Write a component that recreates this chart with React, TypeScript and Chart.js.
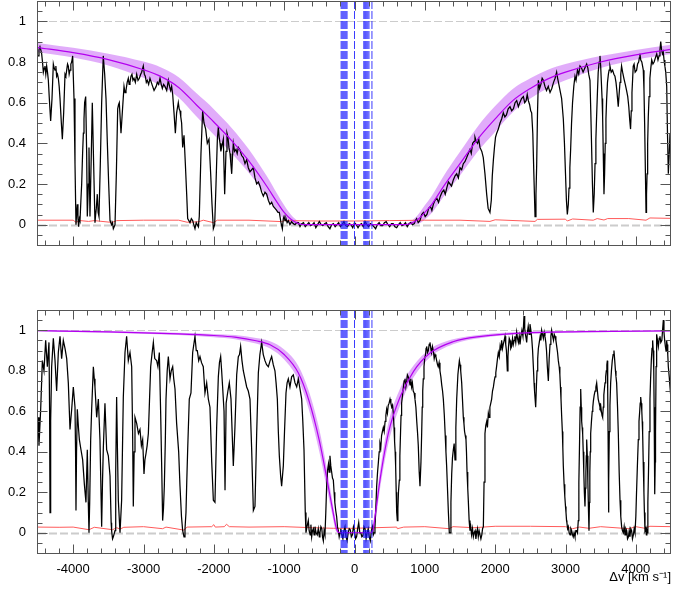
import React, { useEffect, useRef } from 'react';
import { Chart, registerables } from 'chart.js';

Chart.register(...registerables);

// ---------- axes ----------
const V_MIN = -4500;
const V_MAX = 4500;
const F_MIN = -0.1;
const F_MAX = 1.1;
const X_TICKS = [-4000, -3000, -2000, -1000, 0, 1000, 2000, 3000, 4000];
const Y_TICKS = [0, 0.2, 0.4, 0.6, 0.8, 1];
const X_MINOR_STEP = 200;
const Y_MINOR_STEP = 0.05;
const REFERENCE_LEVELS = [0, 1];
const X_TITLE = 'Δv [km s⁻¹]';

// velocity components (blue dashed lines), km/s
const COMPONENT_V = [-190, -176, -162, -148, -134, -120, -106, 0, 132, 146, 160, 175, 190, 206, 248];

// ---------- top panel: normalised flux (velocity, flux) ----------
const TOP_SPECTRUM: [number, number][] = [
  [-4500,0.83],[-4486,0.86],[-4472,0.875],[-4460,0.86],[-4448,0.84],[-4436,0.80],[-4424,0.75],[-4412,0.77],[-4401,0.78],[-4389,0.74],[-4377,0.78],[-4365,0.75],[-4353,0.71],[-4339,0.62],[-4320,0.51],[-4301,0.62],[-4282,0.79],[-4270,0.77],[-4258,0.76],[-4246,0.78],[-4235,0.73],[-4223,0.74],[-4211,0.72],[-4199,0.68],[-4187,0.62],[-4168,0.50],[-4154,0.42],[-4135,0.55],[-4116,0.74],[-4104,0.73],[-4092,0.76],[-4080,0.79],[-4069,0.78],[-4057,0.74],[-4045,0.76],[-4033,0.79],[-4021,0.80],[-4007,0.83],[-3988,0.62],[-3974,0.30],[-3960,0.0],[-3950,0.06],[-3941,0.10],[-3932,0.03],[-3922,-0.01],[-3912,0.03],[-3903,0.02],[-3890,0.12],[-3879,0.20],[-3866,0.35],[-3855,0.45],[-3846,0.52],[-3837,0.60],[-3822,0.63],[-3808,0.35],[-3799,0.04],[-3784,0.20],[-3775,0.38],[-3761,0.04],[-3742,0.35],[-3728,0.60],[-3709,0.30],[-3690,0.01],[-3680,0.05],[-3671,0.08],[-3657,0.15],[-3645,0.06],[-3633,0.04],[-3614,0.30],[-3595,0.60],[-3583,0.72],[-3572,0.83],[-3552,0.74],[-3533,0.62],[-3514,0.40],[-3495,0.20],[-3476,0.02],[-3465,0.01],[-3453,0.0],[-3441,0.01],[-3429,-0.02],[-3417,-0.01],[-3405,0.0],[-3386,0.25],[-3367,0.57],[-3355,0.59],[-3344,0.60],[-3320,0.45],[-3296,0.58],[-3277,0.68],[-3263,0.65],[-3249,0.66],[-3232,0.70],[-3216,0.72],[-3204,0.69],[-3192,0.70],[-3178,0.73],[-3164,0.74],[-3150,0.71],[-3135,0.72],[-3116,0.70],[-3097,0.74],[-3078,0.71],[-3059,0.72],[-3040,0.74],[-3026,0.75],[-3003,0.78],[-2988,0.74],[-2974,0.73],[-2960,0.70],[-2946,0.71],[-2927,0.69],[-2908,0.72],[-2889,0.70],[-2870,0.68],[-2850,0.66],[-2837,0.66],[-2820,0.68],[-2803,0.70],[-2785,0.69],[-2765,0.72],[-2748,0.69],[-2732,0.67],[-2714,0.69],[-2695,0.68],[-2670,0.66],[-2647,0.71],[-2630,0.68],[-2614,0.66],[-2600,0.68],[-2585,0.64],[-2566,0.55],[-2547,0.45],[-2529,0.55],[-2515,0.58],[-2505,0.60],[-2493,0.57],[-2481,0.56],[-2470,0.53],[-2458,0.50],[-2443,0.38],[-2424,0.44],[-2405,0.30],[-2386,0.15],[-2372,0.03],[-2355,0.02],[-2339,0.01],[-2320,0.03],[-2301,0.02],[-2285,0.0],[-2268,-0.02],[-2250,0.01],[-2235,0.0],[-2220,-0.01],[-2207,0.04],[-2183,0.35],[-2159,0.56],[-2140,0.50],[-2116,0.47],[-2093,0.40],[-2069,0.42],[-2045,0.25],[-2026,0.10],[-2007,-0.02],[-1988,0.0],[-1969,0.20],[-1950,0.42],[-1936,0.48],[-1924,0.43],[-1912,0.40],[-1900,0.36],[-1889,0.38],[-1877,0.40],[-1865,0.42],[-1846,0.15],[-1827,0.36],[-1813,0.45],[-1799,0.43],[-1785,0.38],[-1770,0.35],[-1758,0.30],[-1746,0.25],[-1735,0.33],[-1723,0.40],[-1705,0.36],[-1685,0.37],[-1668,0.35],[-1652,0.38],[-1628,0.367],[-1605,0.34],[-1581,0.33],[-1557,0.30],[-1533,0.32],[-1510,0.28],[-1486,0.26],[-1462,0.27],[-1438,0.28],[-1415,0.23],[-1391,0.20],[-1367,0.21],[-1344,0.19],[-1320,0.16],[-1296,0.14],[-1273,0.16],[-1249,0.15],[-1225,0.12],[-1202,0.10],[-1178,0.11],[-1154,0.09],[-1130,0.08],[-1107,0.07],[-1088,0.06],[-1069,0.06],[-1045,0.01],[-1026,-0.02],[-1012,0.03],[-1002,0.04],[-988,0.02],[-974,0.03],[-958,0.01],[-941,0.02],[-918,0.0],[-894,0.015],[-870,0.005],[-846,0.0],[-822,0.01],[-799,0.01],[-775,-0.01],[-750,0.005],[-725,0.01],[-700,-0.01],[-675,0.0],[-650,0.01],[-625,-0.005],[-600,0.0],[-575,0.01],[-550,-0.015],[-525,0.0],[-500,0.015],[-475,0.0],[-450,-0.005],[-425,0.005],[-400,0.01],[-375,-0.01],[-350,-0.02],[-325,0.0],[-300,0.005],[-275,-0.01],[-250,0.0],[-225,0.01],[-200,-0.01],[-175,0.0],[-150,0.015],[-125,-0.005],[-100,-0.01],[-75,0.005],[-50,0.0],[-25,-0.015],[0,0.01],[25,0.0],[50,-0.015],[75,0.0],[100,0.005],[125,-0.01],[150,0.015],[175,0.0],[200,-0.01],[225,0.005],[250,0.0],[275,-0.01],[300,-0.02],[325,0.0],[350,0.01],[375,-0.005],[400,-0.005],[425,0.01],[450,0.015],[475,0.0],[500,-0.01],[525,0.005],[550,0.005],[575,-0.01],[600,-0.015],[625,0.0],[650,0.01],[675,-0.005],[700,0.0],[725,0.01],[750,-0.01],[775,0.005],[800,0.01],[825,0.0],[850,0.005],[867,0.02],[884,0.03],[906,0.01],[930,0.02],[955,0.05],[980,0.06],[1005,0.04],[1030,0.05],[1055,0.08],[1080,0.09],[1100,0.07],[1121,0.10],[1145,0.12],[1170,0.13],[1195,0.11],[1220,0.14],[1245,0.16],[1270,0.17],[1290,0.15],[1311,0.18],[1335,0.21],[1358,0.20],[1380,0.19],[1405,0.22],[1430,0.24],[1453,0.25],[1477,0.23],[1500,0.28],[1524,0.27],[1547,0.30],[1570,0.31],[1595,0.33],[1618,0.35],[1642,0.37],[1660,0.35],[1680,0.40],[1700,0.41],[1713,0.43],[1730,0.41],[1750,0.40],[1767,0.42],[1784,0.38],[1810,0.36],[1831,0.33],[1855,0.25],[1879,0.15],[1900,0.08],[1926,0.06],[1945,0.12],[1959,0.24],[1975,0.32],[1990,0.38],[2005,0.43],[2022,0.45],[2045,0.47],[2069,0.50],[2092,0.52],[2116,0.55],[2138,0.53],[2160,0.54],[2185,0.57],[2211,0.58],[2235,0.56],[2260,0.57],[2283,0.60],[2306,0.61],[2330,0.58],[2350,0.60],[2375,0.62],[2401,0.63],[2420,0.60],[2440,0.61],[2456,0.64],[2472,0.61],[2490,0.59],[2505,0.56],[2519,0.55],[2535,0.45],[2550,0.25],[2567,0.04],[2580,0.15],[2590,0.29],[2602,0.55],[2614,0.71],[2632,0.67],[2650,0.69],[2668,0.72],[2685,0.71],[2708,0.68],[2730,0.66],[2755,0.68],[2780,0.65],[2805,0.67],[2830,0.70],[2852,0.72],[2874,0.75],[2888,0.72],[2900,0.70],[2922,0.66],[2945,0.62],[2969,0.52],[2985,0.40],[3000,0.25],[3013,0.12],[3026,0.05],[3040,0.10],[3050,0.18],[3062,0.28],[3073,0.37],[3086,0.50],[3100,0.60],[3118,0.68],[3135,0.73],[3150,0.71],[3170,0.76],[3188,0.74],[3206,0.78],[3228,0.77],[3250,0.75],[3275,0.77],[3301,0.79],[3318,0.77],[3330,0.74],[3348,0.71],[3360,0.55],[3370,0.40],[3383,0.20],[3395,0.06],[3408,0.15],[3420,0.30],[3432,0.42],[3442,0.53],[3455,0.66],[3465,0.75],[3478,0.80],[3490,0.83],[3500,0.78],[3510,0.70],[3520,0.62],[3528,0.53],[3537,0.35],[3547,0.15],[3556,0.25],[3565,0.40],[3575,0.52],[3584,0.61],[3597,0.70],[3610,0.74],[3620,0.76],[3632,0.78],[3650,0.75],[3670,0.76],[3688,0.74],[3703,0.73],[3718,0.70],[3730,0.66],[3740,0.62],[3750,0.58],[3762,0.64],[3775,0.70],[3786,0.74],[3797,0.78],[3812,0.75],[3830,0.72],[3850,0.69],[3868,0.66],[3885,0.63],[3900,0.58],[3912,0.52],[3925,0.47],[3935,0.56],[3945,0.65],[3955,0.72],[3963,0.78],[3975,0.79],[3990,0.75],[4011,0.76],[4025,0.79],[4040,0.80],[4050,0.82],[4058,0.84],[4070,0.81],[4085,0.80],[4096,0.78],[4106,0.76],[4116,0.66],[4125,0.50],[4135,0.28],[4145,0.06],[4152,0.15],[4160,0.25],[4168,0.40],[4177,0.53],[4188,0.63],[4200,0.72],[4213,0.77],[4226,0.81],[4243,0.79],[4260,0.80],[4278,0.82],[4297,0.84],[4315,0.81],[4330,0.83],[4343,0.86],[4354,0.90],[4366,0.86],[4380,0.84],[4390,0.85],[4401,0.81],[4413,0.78],[4425,0.75],[4439,0.68],[4450,0.45],[4462,0.25],[4475,0.35],[4486,0.45],[4500,0.40]
];

const TOP_ERROR: [number, number][] = [
  [-4500,0.022],[-4000,0.022],[-3960,0.012],[-3900,0.020],[-3780,0.016],[-3700,0.020],[-3450,0.011],[-3380,0.020],[-3000,0.022],[-2500,0.022],[-2380,0.012],[-2220,0.014],[-2150,0.022],[-2007,0.010],[-1950,0.022],[-1500,0.022],[-1035,0.015],[-1000,0.020],[-500,0.018],[0,0.018],[500,0.020],[1000,0.022],[1500,0.022],[1926,0.016],[2000,0.024],[2567,0.016],[2600,0.026],[3000,0.027],[3026,0.018],[3100,0.028],[3395,0.022],[3450,0.030],[3547,0.023],[3600,0.030],[3900,0.030],[4145,0.022],[4200,0.033],[4500,0.031]
];

// top panel model profile with its uncertainty band
const TOP_MODEL_V =   [-4500, -4000, -3500, -3000, -2750, -2500, -2250, -2000, -1750, -1500, -1250, -1100, -1000, -900, -800, -700, 700, 800, 900, 1000, 1100, 1250, 1500, 1750, 2000, 2250, 2500, 2750, 3000, 3500, 4000, 4500];
const TOP_MODEL_LO =  [0.848, 0.822, 0.783, 0.722, 0.683, 0.625, 0.533, 0.442, 0.353, 0.254, 0.140, 0.068, 0.025, 0.003, 0.0, 0.0, 0.0, 0.0, 0.003, 0.025, 0.058, 0.130, 0.242, 0.358, 0.457, 0.553, 0.620, 0.672, 0.710, 0.771, 0.811, 0.839];
const TOP_MODEL_MID = [0.871, 0.846, 0.812, 0.762, 0.728, 0.675, 0.590, 0.505, 0.415, 0.312, 0.190, 0.110, 0.060, 0.025, 0.006, 0.0, 0.0, 0.006, 0.025, 0.060, 0.100, 0.180, 0.300, 0.420, 0.520, 0.610, 0.670, 0.717, 0.750, 0.800, 0.835, 0.862];
const TOP_MODEL_HI =  [0.894, 0.870, 0.841, 0.802, 0.773, 0.725, 0.647, 0.568, 0.477, 0.370, 0.240, 0.152, 0.095, 0.047, 0.016, 0.003, 0.003, 0.016, 0.047, 0.095, 0.142, 0.230, 0.358, 0.482, 0.583, 0.667, 0.720, 0.762, 0.790, 0.829, 0.859, 0.885];

// ---------- bottom panel ----------
const BOT_SPECTRUM: [number, number][] = [
  [-4500,0.57],[-4486,0.43],[-4462,0.61],[-4438,0.85],[-4415,0.80],[-4391,0.95],[-4367,0.82],[-4344,0.94],[-4335,0.60],[-4329,0.10],[-4320,0.55],[-4306,0.82],[-4282,0.96],[-4258,0.85],[-4235,0.70],[-4211,0.89],[-4187,0.97],[-4164,0.86],[-4140,0.95],[-4116,0.91],[-4092,0.86],[-4069,0.74],[-4045,0.51],[-4021,0.61],[-3998,0.72],[-3974,0.62],[-3966,0.40],[-3960,0.11],[-3952,0.40],[-3941,0.61],[-3925,0.52],[-3912,0.46],[-3889,0.41],[-3865,0.36],[-3841,0.24],[-3818,0.15],[-3799,0.41],[-3785,0.15],[-3775,0.0],[-3765,0.15],[-3751,0.46],[-3737,0.61],[-3713,0.82],[-3700,0.76],[-3690,0.72],[-3666,0.57],[-3642,0.66],[-3619,0.46],[-3607,0.25],[-3595,0.03],[-3583,0.25],[-3571,0.42],[-3548,0.64],[-3524,0.41],[-3500,0.38],[-3476,0.28],[-3460,0.05],[-3453,0.01],[-3440,-0.03],[-3429,-0.02],[-3405,0.01],[-3395,0.30],[-3382,0.67],[-3370,0.40],[-3358,0.16],[-3334,0.0],[-3311,0.16],[-3287,0.67],[-3263,0.89],[-3240,0.97],[-3216,0.85],[-3192,0.89],[-3168,0.82],[-3155,0.50],[-3145,0.13],[-3133,0.40],[-3121,0.57],[-3097,0.54],[-3072,0.49],[-3050,0.51],[-3030,0.43],[-3012,0.46],[-2993,0.29],[-2980,0.36],[-2965,0.39],[-2948,0.43],[-2931,0.49],[-2915,0.65],[-2898,0.82],[-2880,0.88],[-2860,0.94],[-2840,0.86],[-2813,0.85],[-2795,0.82],[-2775,0.89],[-2756,0.59],[-2740,0.30],[-2728,0.06],[-2716,0.12],[-2704,0.23],[-2690,0.45],[-2680,0.66],[-2663,0.80],[-2647,0.87],[-2623,0.76],[-2605,0.80],[-2585,0.82],[-2570,0.76],[-2552,0.71],[-2529,0.54],[-2500,0.40],[-2481,0.23],[-2460,0.08],[-2443,0.01],[-2424,-0.02],[-2410,0.02],[-2396,0.10],[-2385,0.25],[-2372,0.41],[-2349,0.66],[-2325,0.69],[-2301,0.89],[-2268,0.97],[-2250,0.90],[-2235,0.90],[-2215,0.85],[-2197,0.87],[-2175,0.84],[-2150,0.82],[-2126,0.69],[-2102,0.74],[-2078,0.66],[-2055,0.62],[-2030,0.35],[-2007,0.16],[-1984,0.15],[-1960,0.52],[-1936,0.77],[-1920,0.84],[-1903,0.87],[-1889,0.80],[-1875,0.72],[-1855,0.60],[-1841,0.21],[-1825,0.64],[-1800,0.70],[-1780,0.74],[-1756,0.66],[-1735,0.45],[-1723,0.33],[-1700,0.52],[-1675,0.78],[-1652,0.87],[-1635,0.88],[-1619,0.92],[-1600,0.85],[-1581,0.80],[-1557,0.76],[-1533,0.72],[-1510,0.70],[-1486,0.66],[-1462,0.41],[-1438,0.11],[-1415,0.13],[-1391,0.49],[-1367,0.79],[-1345,0.88],[-1320,0.94],[-1297,0.88],[-1273,0.85],[-1250,0.83],[-1225,0.82],[-1200,0.85],[-1178,0.87],[-1155,0.83],[-1131,0.80],[-1115,0.74],[-1097,0.66],[-1083,0.50],[-1069,0.38],[-1050,0.28],[-1036,0.23],[-1012,0.33],[-995,0.50],[-974,0.69],[-958,0.74],[-941,0.76],[-918,0.72],[-894,0.77],[-870,0.78],[-846,0.74],[-822,0.72],[-799,0.76],[-775,0.71],[-751,0.66],[-735,0.55],[-718,0.41],[-700,0.10],[-690,0.0],[-675,0.03],[-657,0.06],[-645,0.01],[-630,-0.01],[-620,0.04],[-609,-0.02],[-597,0.01],[-585,0.02],[-574,-0.01],[-562,0.03],[-546,0.0],[-530,-0.01],[-515,0.02],[-500,-0.02],[-491,0.0],[-478,0.03],[-465,0.02],[-455,-0.02],[-443,-0.04],[-432,0.01],[-420,-0.01],[-408,0.10],[-396,0.23],[-383,0.31],[-370,0.34],[-360,0.30],[-349,0.38],[-337,0.33],[-325,0.30],[-313,0.27],[-301,0.26],[-290,0.20],[-280,0.15],[-267,0.11],[-254,0.08],[-242,0.03],[-230,0.01],[-218,-0.02],[-206,0.0],[-195,0.02],[-180,-0.01],[-165,-0.03],[-150,0.01],[-135,0.03],[-120,-0.02],[-105,-0.04],[-90,0.0],[-75,0.02],[-60,0.015],[-45,-0.02],[-30,-0.01],[-15,0.03],[0,0.01],[15,-0.03],[30,-0.02],[45,0.02],[60,0.05],[75,0.0],[90,0.0],[105,-0.02],[120,-0.015],[135,0.03],[150,0.02],[165,-0.03],[180,0.0],[195,0.02],[210,-0.02],[225,-0.04],[240,0.01],[255,0.03],[268,-0.01],[280,0.0],[291,0.03],[303,0.12],[315,0.23],[328,0.30],[340,0.35],[351,0.40],[362,0.44],[374,0.42],[385,0.48],[397,0.50],[410,0.52],[422,0.50],[435,0.55],[446,0.58],[457,0.61],[468,0.59],[480,0.63],[492,0.64],[505,0.66],[517,0.64],[530,0.62],[541,0.63],[552,0.59],[562,0.52],[570,0.45],[578,0.40],[585,0.33],[593,0.20],[600,0.10],[609,0.06],[617,0.12],[625,0.20],[637,0.26],[645,0.38],[655,0.50],[662,0.58],[670,0.64],[683,0.68],[695,0.72],[706,0.75],[718,0.76],[730,0.72],[740,0.74],[752,0.78],[765,0.77],[778,0.75],[790,0.73],[800,0.76],[812,0.72],[823,0.74],[835,0.70],[848,0.69],[860,0.66],[873,0.62],[885,0.55],[897,0.49],[907,0.43],[920,0.30],[931,0.23],[945,0.35],[955,0.49],[963,0.62],[970,0.70],[978,0.76],[988,0.82],[998,0.86],[1010,0.88],[1018,0.91],[1026,0.92],[1038,0.89],[1050,0.90],[1062,0.93],[1073,0.94],[1085,0.91],[1095,0.89],[1108,0.92],[1120,0.90],[1133,0.86],[1145,0.88],[1157,0.87],[1168,0.85],[1180,0.83],[1190,0.82],[1203,0.84],[1215,0.80],[1228,0.77],[1240,0.73],[1252,0.70],[1263,0.66],[1277,0.58],[1290,0.48],[1300,0.40],[1310,0.33],[1322,0.22],[1335,0.10],[1348,0.0],[1360,0.0],[1371,0.15],[1382,0.29],[1393,0.37],[1405,0.41],[1417,0.44],[1429,0.36],[1441,0.52],[1453,0.66],[1470,0.78],[1481,0.82],[1491,0.85],[1500,0.83],[1510,0.80],[1524,0.74],[1535,0.66],[1547,0.57],[1556,0.54],[1565,0.50],[1575,0.48],[1585,0.46],[1592,0.40],[1600,0.30],[1610,0.22],[1618,0.16],[1630,0.06],[1642,0.01],[1653,0.03],[1665,-0.01],[1678,0.02],[1690,-0.02],[1702,0.0],[1715,0.01],[1726,-0.03],[1737,0.0],[1748,0.02],[1760,-0.02],[1772,0.01],[1784,0.01],[1797,-0.03],[1810,-0.01],[1821,0.02],[1832,0.03],[1842,0.25],[1855,0.49],[1867,0.53],[1880,0.55],[1890,0.52],[1903,0.59],[1914,0.57],[1925,0.62],[1938,0.64],[1950,0.66],[1962,0.70],[1975,0.72],[1987,0.75],[1998,0.77],[2009,0.79],[2020,0.82],[2033,0.86],[2045,0.89],[2058,0.87],[2070,0.92],[2081,0.90],[2092,0.95],[2104,0.91],[2115,0.93],[2128,0.95],[2140,0.97],[2150,0.93],[2160,0.90],[2173,0.80],[2182,0.87],[2190,0.92],[2200,0.96],[2211,0.95],[2222,0.91],[2235,0.92],[2247,0.96],[2258,0.93],[2270,0.95],[2280,0.97],[2293,0.94],[2306,0.99],[2318,0.96],[2330,0.94],[2342,0.97],[2353,0.93],[2366,0.97],[2380,1.00],[2395,0.97],[2410,1.07],[2420,1.01],[2430,0.98],[2440,0.96],[2448,0.94],[2458,0.99],[2470,1.02],[2483,0.98],[2495,1.03],[2508,1.00],[2520,0.96],[2532,0.90],[2543,0.82],[2553,0.74],[2560,0.70],[2568,0.66],[2576,0.62],[2586,0.72],[2595,0.80],[2605,0.86],[2614,0.91],[2627,0.94],[2640,0.97],[2650,0.95],[2661,1.00],[2673,0.98],[2685,0.96],[2697,0.99],[2708,0.97],[2720,0.94],[2730,0.90],[2742,0.82],[2756,0.75],[2768,0.86],[2780,0.93],[2792,0.97],[2803,1.00],[2817,0.97],[2830,0.95],[2840,0.98],[2851,0.97],[2863,0.95],[2875,0.92],[2887,0.89],[2898,0.85],[2910,0.82],[2920,0.78],[2928,0.72],[2936,0.66],[2945,0.58],[2955,0.50],[2962,0.42],[2969,0.33],[2980,0.24],[2990,0.18],[3000,0.13],[3007,0.10],[3015,0.06],[3020,0.05],[3030,0.02],[3040,0.03],[3052,0.0],[3065,-0.01],[3076,0.02],[3088,0.01],[3100,-0.01],[3110,-0.02],[3122,0.0],[3135,-0.02],[3147,0.01],[3160,0.01],[3170,0.0],[3182,0.06],[3190,0.25],[3200,0.45],[3208,0.62],[3216,0.71],[3224,0.62],[3230,0.55],[3237,0.52],[3244,0.49],[3252,0.40],[3260,0.30],[3268,0.20],[3277,0.13],[3284,0.22],[3290,0.30],[3296,0.38],[3301,0.46],[3310,0.38],[3318,0.25],[3326,0.12],[3334,0.01],[3340,0.15],[3346,0.30],[3352,0.40],[3358,0.49],[3369,0.55],[3380,0.60],[3388,0.62],[3396,0.65],[3408,0.68],[3420,0.70],[3432,0.72],[3443,0.74],[3454,0.70],[3465,0.66],[3478,0.64],[3490,0.62],[3500,0.63],[3510,0.60],[3519,0.58],[3528,0.57],[3537,0.62],[3545,0.68],[3553,0.71],[3562,0.74],[3571,0.77],[3580,0.80],[3588,0.83],[3595,0.85],[3600,0.70],[3605,0.50],[3610,0.25],[3614,0.10],[3618,0.25],[3623,0.50],[3632,0.63],[3642,0.74],[3653,0.80],[3665,0.85],[3677,0.88],[3689,0.90],[3700,0.85],[3710,0.80],[3718,0.77],[3727,0.74],[3740,0.62],[3751,0.49],[3763,0.30],[3775,0.16],[3786,0.08],[3798,0.03],[3810,0.01],[3822,0.0],[3834,0.03],[3846,-0.01],[3858,0.02],[3870,0.01],[3882,-0.03],[3895,-0.02],[3906,0.01],[3917,-0.02],[3928,0.02],[3940,0.01],[3952,-0.03],[3965,-0.01],[3976,0.02],[3988,0.0],[4000,0.08],[4010,0.20],[4022,0.33],[4035,0.46],[4045,0.55],[4055,0.60],[4062,0.64],[4069,0.67],[4077,0.64],[4085,0.60],[4091,0.55],[4097,0.49],[4105,0.35],[4115,0.20],[4122,0.10],[4130,0.01],[4140,0.02],[4150,-0.01],[4157,0.01],[4163,0.0],[4171,0.15],[4180,0.30],[4190,0.50],[4201,0.66],[4210,0.76],[4220,0.85],[4230,0.91],[4239,0.95],[4247,0.90],[4255,0.80],[4260,0.62],[4265,0.40],[4272,0.19],[4276,0.35],[4280,0.50],[4288,0.82],[4296,0.98],[4308,0.95],[4320,0.92],[4332,0.96],[4343,0.97],[4355,0.94],[4370,0.95],[4380,1.00],[4391,1.05],[4400,0.99],[4410,0.95],[4420,0.92],[4429,0.90],[4437,0.95],[4445,0.93],[4454,0.88],[4462,0.82],[4475,0.77],[4486,0.72],[4500,0.66]
];

const BOT_ERROR: [number, number][] = [
  [-4500,0.028],[-4200,0.027],[-4000,0.028],[-3775,0.015],[-3700,0.027],[-3440,0.015],[-3380,0.025],[-3334,0.018],[-3280,0.027],[-3000,0.030],[-2728,0.020],[-2680,0.028],[-2424,0.013],[-2380,0.028],[-2030,0.030],[-2000,0.040],[-1980,0.028],[-1850,0.030],[-1820,0.042],[-1780,0.030],[-1500,0.028],[-1000,0.030],[-600,0.025],[-300,0.022],[0,0.022],[300,0.025],[600,0.028],[609,0.020],[700,0.028],[1000,0.030],[1348,0.020],[1400,0.030],[1700,0.025],[2000,0.032],[2500,0.032],[3000,0.030],[3100,0.020],[3200,0.028],[3334,0.022],[3500,0.030],[3900,0.020],[4000,0.030],[4130,0.022],[4200,0.032],[4500,0.030]
];

const BOT_MODEL_V =   [-4500, -3500, -2500, -2000, -1700, -1400, -1200, -1000, -800, -650, -500, -400, -320, -260, -230, -200, 230, 260, 300, 362, 480, 650, 840, 1070, 1400, 1800, 2300, 3250, 4500];
const BOT_MODEL_LO =  [0.995, 0.988, 0.976, 0.966, 0.956, 0.934, 0.910, 0.855, 0.755, 0.610, 0.400, 0.230, 0.095, 0.005, 0.0, 0.0, 0.0, 0.0, 0.060, 0.215, 0.440, 0.630, 0.768, 0.866, 0.931, 0.962, 0.979, 0.989, 0.995];
const BOT_MODEL_MID = [0.998, 0.992, 0.982, 0.974, 0.966, 0.948, 0.928, 0.880, 0.790, 0.655, 0.455, 0.280, 0.130, 0.025, 0.002, 0.0, 0.0, 0.010, 0.100, 0.260, 0.490, 0.672, 0.797, 0.886, 0.943, 0.970, 0.985, 0.993, 0.997];
const BOT_MODEL_HI =  [1.000, 0.996, 0.988, 0.982, 0.976, 0.962, 0.946, 0.905, 0.825, 0.700, 0.510, 0.330, 0.168, 0.050, 0.010, 0.002, 0.002, 0.030, 0.140, 0.305, 0.540, 0.714, 0.826, 0.906, 0.955, 0.978, 0.991, 0.997, 0.999];

// ---------- styles ----------
const FONT = { family: "'Liberation Sans', Arial, Helvetica, sans-serif", size: 13 };
const BAND_FILL = 'rgba(195, 90, 245, 0.5)';
const MODEL_COLOR = '#b400f0';
const ERROR_COLOR = '#ff5a5a';
const FLUX_COLOR = '#000000';
const COMPONENT_COLOR = 'rgba(25, 25, 255, 0.85)';
const FRAME_COLOR = '#555555';

const pairsToXY = (pairs: [number, number][]) => pairs.map(([x, y]) => ({ x, y }));
const zipXY = (xs: number[], ys: number[]) => xs.map((x, i) => ({ x, y: ys[i] }));

const decorPlugin = {
  id: 'decor',
  beforeDatasetsDraw(chart: any) {
    const { ctx, chartArea, scales } = chart;
    const { left, right } = chartArea;
    ctx.save();
    ctx.strokeStyle = '#cccccc';
    ctx.setLineDash([8, 3]);
    REFERENCE_LEVELS.forEach((lv) => {
      const py = Math.round(scales.y.getPixelForValue(lv)) + 0.5;
      ctx.lineWidth = lv === 0 ? 2 : 1;
      ctx.beginPath();
      ctx.moveTo(left, py);
      ctx.lineTo(right, py);
      ctx.stroke();
    });
    ctx.restore();
  },
  afterDatasetsDraw(chart: any) {
    const { ctx, chartArea, scales } = chart;
    const { left, right, top, bottom } = chartArea;
    const xs = scales.x;
    const ys = scales.y;
    ctx.save();
    // velocity components
    ctx.strokeStyle = COMPONENT_COLOR;
    ctx.lineWidth = 1;
    ctx.setLineDash([8, 2]);
    COMPONENT_V.forEach((v) => {
      const px = xs.getPixelForValue(v);
      ctx.beginPath();
      ctx.moveTo(px, top);
      ctx.lineTo(px, bottom);
      ctx.stroke();
    });
    ctx.setLineDash([]);
    // frame
    const L = Math.round(left) - 0.5;
    const R = Math.round(right) - 0.5;
    const T = Math.round(top) + 0.5;
    const B = Math.round(bottom) + 0.5;
    ctx.strokeStyle = FRAME_COLOR;
    ctx.lineWidth = 1;
    ctx.strokeRect(L, T, R - L, B - T);
    const seg = (x1: number, y1: number, x2: number, y2: number) => {
      ctx.beginPath();
      ctx.moveTo(x1, y1);
      ctx.lineTo(x2, y2);
      ctx.stroke();
    };
    // x ticks (inward, top and bottom)
    const nx0 = Math.ceil(V_MIN / X_MINOR_STEP);
    const nx1 = Math.floor(V_MAX / X_MINOR_STEP);
    for (let i = nx0; i <= nx1; i++) {
      const v = i * X_MINOR_STEP;
      const px = Math.round(xs.getPixelForValue(v)) + 0.5;
      const major = X_TICKS.includes(v);
      const len = major ? 9 : 5;
      seg(px, B, px, B - len);
      seg(px, T, px, T + len);
    }
    // y ticks (inward, left and right)
    const ny0 = Math.ceil(F_MIN / Y_MINOR_STEP - 1e-9);
    const ny1 = Math.floor(F_MAX / Y_MINOR_STEP + 1e-9);
    for (let i = ny0; i <= ny1; i++) {
      const v = i * Y_MINOR_STEP;
      const py = Math.round(ys.getPixelForValue(v)) + 0.5;
      const major = Y_TICKS.some((t) => Math.abs(t - v) < 1e-6);
      const len = major ? 10 : 5;
      seg(L, py, L + len, py);
      seg(R, py, R - len, py);
    }
    ctx.restore();
  },
};

type PanelSpec = {
  spectrum: [number, number][];
  error: [number, number][];
  modelV: number[];
  modelLo: number[];
  modelMid: number[];
  modelHi: number[];
  padTop: number;
  xHeight: number;
  showLabels: boolean;
};

const TOP_PANEL: PanelSpec = {
  spectrum: TOP_SPECTRUM,
  error: TOP_ERROR,
  modelV: TOP_MODEL_V,
  modelLo: TOP_MODEL_LO,
  modelMid: TOP_MODEL_MID,
  modelHi: TOP_MODEL_HI,
  padTop: 1,
  xHeight: 15,
  showLabels: false,
};

const BOT_PANEL: PanelSpec = {
  spectrum: BOT_SPECTRUM,
  error: BOT_ERROR,
  modelV: BOT_MODEL_V,
  modelLo: BOT_MODEL_LO,
  modelMid: BOT_MODEL_MID,
  modelHi: BOT_MODEL_HI,
  padTop: 20,
  xHeight: 37,
  showLabels: true,
};

function makeConfig(p: PanelSpec): any {
  return {
    type: 'line',
    data: {
      datasets: [
        {
          label: 'model upper',
          data: zipXY(p.modelV, p.modelHi),
          borderColor: 'rgba(0,0,0,0)',
          borderWidth: 0,
          pointRadius: 0,
          fill: '+1',
          backgroundColor: BAND_FILL,
          cubicInterpolationMode: 'monotone',
          order: 6,
        },
        {
          label: 'model lower',
          data: zipXY(p.modelV, p.modelLo),
          borderColor: 'rgba(0,0,0,0)',
          borderWidth: 0,
          pointRadius: 0,
          fill: false,
          cubicInterpolationMode: 'monotone',
          order: 6,
        },
        {
          label: 'error',
          data: pairsToXY(p.error),
          borderColor: ERROR_COLOR,
          borderWidth: 1,
          pointRadius: 0,
          fill: false,
          order: 4,
        },
        {
          label: 'flux',
          data: pairsToXY(p.spectrum),
          borderColor: FLUX_COLOR,
          borderWidth: 1.25,
          pointRadius: 0,
          fill: false,
          order: 3,
        },
        {
          label: 'model',
          data: zipXY(p.modelV, p.modelMid),
          borderColor: MODEL_COLOR,
          borderWidth: 1.2,
          pointRadius: 0,
          fill: false,
          cubicInterpolationMode: 'monotone',
          order: 2,
        },
      ],
    },
    options: {
      animation: false,
      responsive: false,
      events: [],
      layout: { padding: { top: p.padTop, right: 21, left: 0, bottom: 0 } },
      plugins: {
        legend: { display: false },
        tooltip: { enabled: false },
        title: { display: false },
      },
      scales: {
        x: {
          type: 'linear',
          min: V_MIN,
          max: V_MAX,
          grid: { display: false },
          border: { display: false },
          afterBuildTicks: (s: any) => {
            s.ticks = X_TICKS.map((v) => ({ value: v }));
          },
          ticks: {
            display: p.showLabels,
            autoSkip: false,
            maxRotation: 0,
            padding: 1,
            color: '#000',
            font: FONT,
            callback: (v: any) => String(v),
          },
          title: {
            display: p.showLabels,
            text: X_TITLE,
            align: 'end',
            color: '#000',
            font: FONT,
            padding: { top: 0, bottom: 5 },
          },
          afterFit: (s: any) => {
            s.height = p.xHeight;
            s.paddingLeft = 0;
            s.paddingRight = 0;
          },
        },
        y: {
          type: 'linear',
          min: F_MIN,
          max: F_MAX,
          grid: { display: false },
          border: { display: false },
          afterBuildTicks: (s: any) => {
            s.ticks = Y_TICKS.map((v) => ({ value: v }));
          },
          ticks: {
            padding: 4,
            color: '#000',
            font: FONT,
            callback: (v: any) => (v === 0 || v === 1 ? String(v) : Number(v).toFixed(1)),
          },
          afterFit: (s: any) => {
            s.width = 38;
            s.paddingTop = 0;
            s.paddingBottom = 0;
          },
        },
      },
    },
    plugins: [decorPlugin],
  };
}

export default function App() {
  const topRef = useRef<HTMLCanvasElement>(null);
  const botRef = useRef<HTMLCanvasElement>(null);

  useEffect(() => {
    const top = new Chart(topRef.current as HTMLCanvasElement, makeConfig(TOP_PANEL));
    const bot = new Chart(botRef.current as HTMLCanvasElement, makeConfig(BOT_PANEL));
    return () => {
      top.destroy();
      bot.destroy();
    };
  }, []);

  return (
    <div style={{ position: 'absolute', left: 0, top: 0, width: 692, height: 590, background: '#fff' }}>
      <canvas ref={topRef} width={692} height={260} style={{ position: 'absolute', left: 0, top: 0 }} />
      <canvas ref={botRef} width={692} height={300} style={{ position: 'absolute', left: 0, top: 290 }} />
    </div>
  );
}
